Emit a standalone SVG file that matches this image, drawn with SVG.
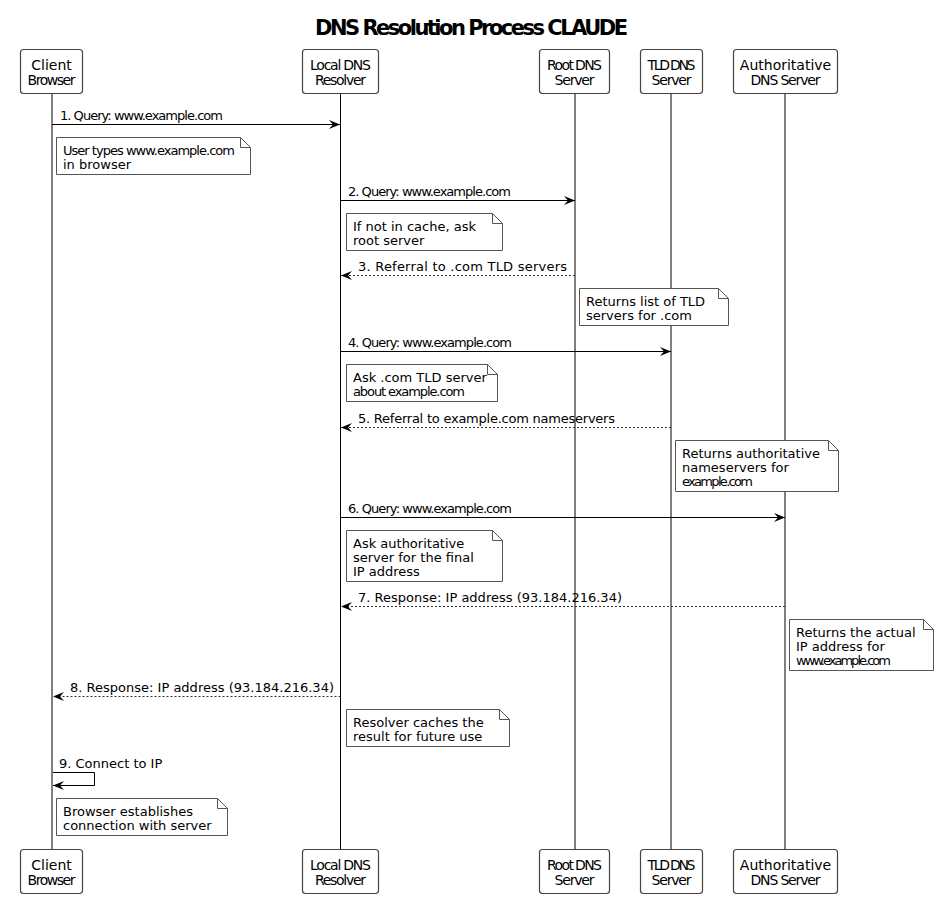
<svg xmlns="http://www.w3.org/2000/svg" width="940" height="899" viewBox="0 0 940 899">
<defs>
<style>
.title{font-family:"DejaVu Sans",Verdana,sans-serif;font-weight:bold;font-size:21px;fill:#000}
.pbox{fill:#fff;stroke:#444;stroke-width:1.2}
.ptxt{font-family:"DejaVu Sans",Verdana,sans-serif;font-size:14px;fill:#000;text-anchor:middle}
.life{stroke:#808080;stroke-width:2;fill:none}
.lifeb{stroke:#000;stroke-width:1;fill:none}
.msg{stroke:#000;stroke-width:1;fill:none;marker-end:url(#ah)}
.ret{stroke:#333;stroke-width:1;fill:none;stroke-dasharray:2 2;marker-end:url(#ah)}
.mtxt{font-family:"DejaVu Sans",Verdana,sans-serif;font-size:13px;fill:#000}
.note{fill:#fff;stroke:#555;stroke-width:1}
.ntxt{font-family:"DejaVu Sans",Verdana,sans-serif;font-size:13px;fill:#000}
</style>
<marker id="ah" markerUnits="userSpaceOnUse" markerWidth="12" markerHeight="10" refX="11" refY="4.5" orient="auto" overflow="visible">
<path d="M0,0 L11,4.5 L0,9 L4,4.5 Z" fill="#000"/>
</marker>
</defs>
<rect width="940" height="899" fill="#fff"/>
<text class="title" x="315" y="35" textLength="313" lengthAdjust="spacing">DNS Resolution Process CLAUDE</text>

<g id="lifelines">
<line class="life" x1="52" y1="93" x2="52" y2="849"/>
<line class="lifeb" x1="340.5" y1="93" x2="340.5" y2="849"/>
<line class="life" x1="575" y1="93" x2="575" y2="849"/>
<line class="life" x1="671" y1="93" x2="671" y2="849"/>
<line class="life" x1="785" y1="93" x2="785" y2="849"/>
</g>

<g id="client">
<rect class="pbox" x="20.5" y="49.5" width="62" height="44" rx="3"/>
<text class="ptxt" x="51.5" y="70">Client</text>
<text class="ptxt" x="51.5" y="85" textLength="48" lengthAdjust="spacing">Browser</text>
<rect class="pbox" x="20.5" y="849.5" width="62" height="44" rx="3"/>
<text class="ptxt" x="51.5" y="870">Client</text>
<text class="ptxt" x="51.5" y="885" textLength="48" lengthAdjust="spacing">Browser</text>
</g>
<g id="resolver">
<rect class="pbox" x="302.5" y="49.5" width="76" height="44" rx="3"/>
<text class="ptxt" x="340.5" y="70" textLength="61" lengthAdjust="spacing">Local DNS</text>
<text class="ptxt" x="340.5" y="85" textLength="51" lengthAdjust="spacing">Resolver</text>
<rect class="pbox" x="302.5" y="849.5" width="76" height="44" rx="3"/>
<text class="ptxt" x="340.5" y="870" textLength="61" lengthAdjust="spacing">Local DNS</text>
<text class="ptxt" x="340.5" y="885" textLength="51" lengthAdjust="spacing">Resolver</text>
</g>
<g id="root">
<rect class="pbox" x="539.5" y="49.5" width="70" height="44" rx="3"/>
<text class="ptxt" x="574.5" y="70" textLength="55" lengthAdjust="spacing">Root DNS</text>
<text class="ptxt" x="574.5" y="85" textLength="40" lengthAdjust="spacing">Server</text>
<rect class="pbox" x="539.5" y="849.5" width="70" height="44" rx="3"/>
<text class="ptxt" x="574.5" y="870" textLength="55" lengthAdjust="spacing">Root DNS</text>
<text class="ptxt" x="574.5" y="885" textLength="40" lengthAdjust="spacing">Server</text>
</g>
<g id="tld">
<rect class="pbox" x="640.5" y="49.5" width="62" height="44" rx="3"/>
<text class="ptxt" x="671.5" y="70" textLength="48" lengthAdjust="spacing">TLD DNS</text>
<text class="ptxt" x="671.5" y="85" textLength="40" lengthAdjust="spacing">Server</text>
<rect class="pbox" x="640.5" y="849.5" width="62" height="44" rx="3"/>
<text class="ptxt" x="671.5" y="870" textLength="48" lengthAdjust="spacing">TLD DNS</text>
<text class="ptxt" x="671.5" y="885" textLength="40" lengthAdjust="spacing">Server</text>
</g>
<g id="authoritative">
<rect class="pbox" x="733.5" y="49.5" width="104" height="44" rx="3"/>
<text class="ptxt" x="785.5" y="70">Authoritative</text>
<text class="ptxt" x="785.5" y="85" textLength="70" lengthAdjust="spacing">DNS Server</text>
<rect class="pbox" x="733.5" y="849.5" width="104" height="44" rx="3"/>
<text class="ptxt" x="785.5" y="870">Authoritative</text>
<text class="ptxt" x="785.5" y="885" textLength="70" lengthAdjust="spacing">DNS Server</text>
</g>

<g id="connectors">
<path class="msg" d="M52,124.5 H340"/>
<text class="mtxt" x="60" y="120" textLength="163" lengthAdjust="spacing">1. Query: www.example.com</text>
<path class="msg" d="M340.5,200.5 H575"/>
<text class="mtxt" x="348" y="196" textLength="163" lengthAdjust="spacing">2. Query: www.example.com</text>
<path class="ret" d="M575,275.5 H341"/>
<text class="mtxt" x="358" y="271" textLength="209" lengthAdjust="spacing">3. Referral to .com TLD servers</text>
<path class="msg" d="M340.5,351.5 H671"/>
<text class="mtxt" x="348" y="347" textLength="164" lengthAdjust="spacing">4. Query: www.example.com</text>
<path class="ret" d="M671,427.5 H341"/>
<text class="mtxt" x="358" y="423" textLength="257" lengthAdjust="spacing">5. Referral to example.com nameservers</text>
<path class="msg" d="M340.5,517.5 H785"/>
<text class="mtxt" x="348" y="513" textLength="164" lengthAdjust="spacing">6. Query: www.example.com</text>
<path class="ret" d="M785,606.5 H341"/>
<text class="mtxt" x="358" y="602" textLength="264" lengthAdjust="spacing">7. Response: IP address (93.184.216.34)</text>
<path class="ret" d="M340.5,696.5 H53"/>
<text class="mtxt" x="70" y="692" textLength="264" lengthAdjust="spacing">8. Response: IP address (93.184.216.34)</text>
<path class="msg" d="M53,772.5 H94.5 V785.5 H53"/>
<text class="mtxt" x="59" y="768">9. Connect to IP</text>
</g>

<g id="note1">
<path class="note" d="M56.5,137.5 H240.5 L250.5,147.5 V174.5 H56.5 Z M240.5,137.5 V147.5 H250.5"/>
<text class="ntxt" x="63" y="155" textLength="172" lengthAdjust="spacing">User types www.example.com</text>
<text class="ntxt" x="63" y="169">in browser</text>
</g>
<g id="note2">
<path class="note" d="M346.5,213.5 H492.5 L502.5,223.5 V250.5 H346.5 Z M492.5,213.5 V223.5 H502.5"/>
<text class="ntxt" x="353" y="231">If not in cache, ask</text>
<text class="ntxt" x="353" y="245">root server</text>
</g>
<g id="note3">
<path class="note" d="M579.5,288.5 H718.5 L728.5,298.5 V325.5 H579.5 Z M718.5,288.5 V298.5 H728.5"/>
<text class="ntxt" x="586" y="306">Returns list of TLD</text>
<text class="ntxt" x="586" y="320">servers for .com</text>
</g>
<g id="note4">
<path class="note" d="M346.5,364.5 H487.5 L497.5,374.5 V401.5 H346.5 Z M487.5,364.5 V374.5 H497.5"/>
<text class="ntxt" x="353" y="382">Ask .com TLD server</text>
<text class="ntxt" x="353" y="396" textLength="112" lengthAdjust="spacing">about example.com</text>
</g>
<g id="note5">
<path class="note" d="M675.5,440.5 H828.5 L838.5,450.5 V491.5 H675.5 Z M828.5,440.5 V450.5 H838.5"/>
<text class="ntxt" x="682" y="458">Returns authoritative</text>
<text class="ntxt" x="682" y="472">nameservers for</text>
<text class="ntxt" x="682" y="486" textLength="71" lengthAdjust="spacing">example.com</text>
</g>
<g id="note6">
<path class="note" d="M346.5,530.5 H492.5 L502.5,540.5 V581.5 H346.5 Z M492.5,530.5 V540.5 H502.5"/>
<text class="ntxt" x="353" y="548">Ask authoritative</text>
<text class="ntxt" x="353" y="562">server for the final</text>
<text class="ntxt" x="353" y="576">IP address</text>
</g>
<g id="note7">
<path class="note" d="M789.5,619.5 H923.5 L933.5,629.5 V670.5 H789.5 Z M923.5,619.5 V629.5 H933.5"/>
<text class="ntxt" x="796" y="637">Returns the actual</text>
<text class="ntxt" x="796" y="651">IP address for</text>
<text class="ntxt" x="796" y="665" textLength="95" lengthAdjust="spacing">www.example.com</text>
</g>
<g id="note8">
<path class="note" d="M346.5,709.5 H499.5 L509.5,719.5 V746.5 H346.5 Z M499.5,709.5 V719.5 H509.5"/>
<text class="ntxt" x="353" y="727">Resolver caches the</text>
<text class="ntxt" x="353" y="741">result for future use</text>
</g>
<g id="note9">
<path class="note" d="M56.5,798.5 H217.5 L227.5,808.5 V835.5 H56.5 Z M217.5,798.5 V808.5 H227.5"/>
<text class="ntxt" x="63" y="816">Browser establishes</text>
<text class="ntxt" x="63" y="830">connection with server</text>
</g>
</svg>
